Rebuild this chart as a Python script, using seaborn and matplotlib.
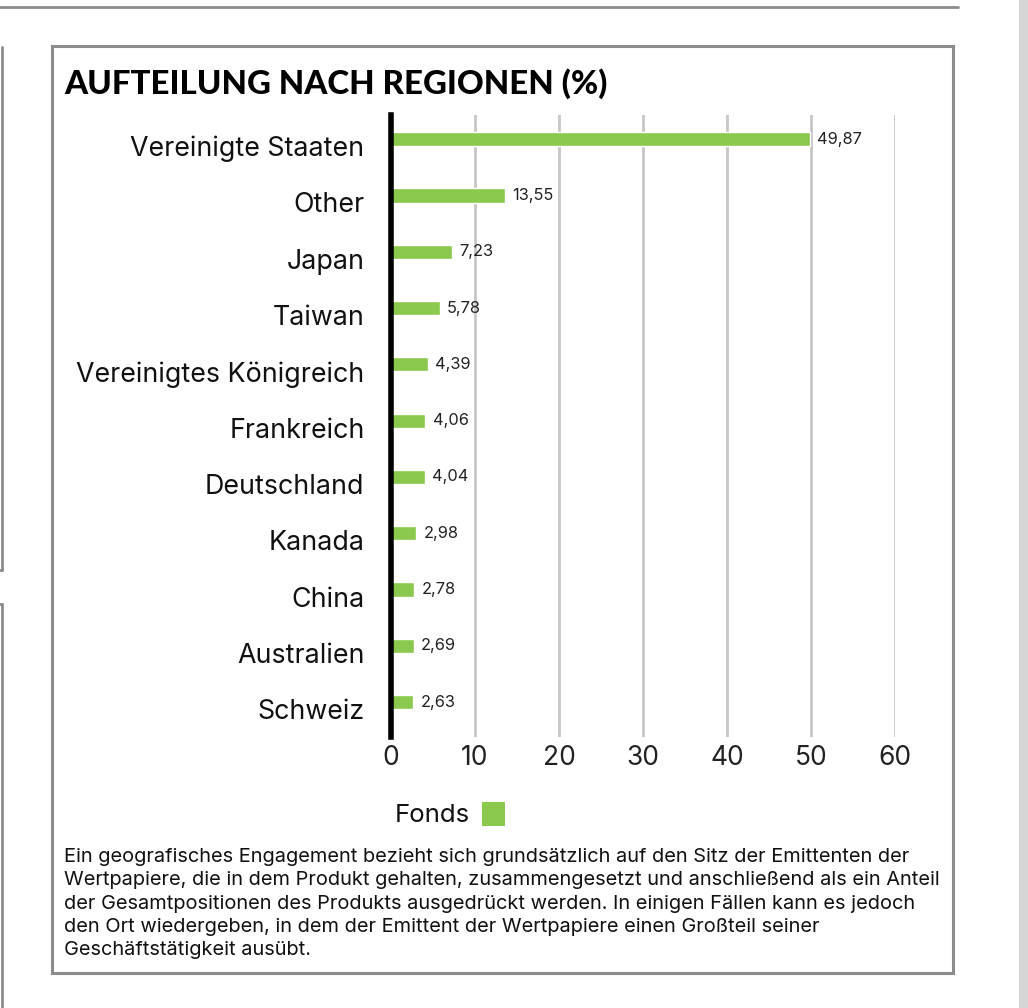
import matplotlib
matplotlib.use('Agg')
import matplotlib.pyplot as plt
import matplotlib.patches as mpatches
import matplotlib.transforms as mtrans
from matplotlib.lines import Line2D
import seaborn as sns
import pandas as pd

# daten
regionen = ['Vereinigte Staaten', 'Other', 'Japan', 'Taiwan', 'Vereinigtes Königreich',
            'Frankreich', 'Deutschland', 'Kanada', 'China', 'Australien', 'Schweiz']
fonds = [49.87, 13.55, 7.23, 5.78, 4.39, 4.06, 4.04, 2.98, 2.78, 2.69, 2.63]
x_ticks = [0, 10, 20, 30, 40, 50, 60]

titel = 'AUFTEILUNG NACH REGIONEN (%)'
fussnote = [
    'Ein geografisches Engagement bezieht sich grundsätzlich auf den Sitz der Emittenten der',
    'Wertpapiere, die in dem Produkt gehalten, zusammengesetzt und anschließend als ein Anteil',
    'der Gesamtpositionen des Produkts ausgedrückt werden. In einigen Fällen kann es jedoch',
    'den Ort wiedergeben, in dem der Emittent der Wertpapiere einen Großteil seiner',
    'Geschäftstätigkeit ausübt.',
]

df = pd.DataFrame({'Region': regionen, 'Fonds': fonds})

sns.set_style('white')
plt.rcParams['font.family'] = ['Inter', 'DejaVu Sans']

W, H = 1028, 1008
fig = plt.figure(figsize=(W / 100, H / 100), dpi=100)
GRUEN = '#8bc84e'

def fx(px):
    return px / W

def fy(py):
    return 1 - py / H

# rahmen / seitenelemente
rahmen = '#8c8c8c'
fig.add_artist(Line2D([0, fx(958)], [fy(7), fy(7)], color=rahmen, lw=2))
fig.add_artist(mpatches.Rectangle((fx(52), fy(973)), fx(953) - fx(52), fy(46) - fy(973),
                                  fill=False, edgecolor=rahmen, lw=2.2))
fig.add_artist(Line2D([fx(2), fx(2)], [fy(47), fy(570)], color=rahmen, lw=2))
fig.add_artist(Line2D([0, fx(2)], [fy(570), fy(570)], color=rahmen, lw=2))
fig.add_artist(Line2D([fx(2), fx(2)], [fy(604), 0], color=rahmen, lw=2))
fig.add_artist(Line2D([0, fx(2)], [fy(604), fy(604)], color=rahmen, lw=2))
fig.add_artist(mpatches.Rectangle((fx(1019), 0), fx(9), 1, color='#d6d6d6', lw=0))

ax = fig.add_axes([fx(391), fy(737), fx(895) - fx(391), fy(115) - fy(737)])
sns.barplot(data=df, x='Fonds', y='Region', color=GRUEN, width=0.25, saturation=1, ax=ax)

ax.set_xlim(0, 60)
ax.set_ylim(10.62, -0.43)
ax.set_xticks(x_ticks)
ax.set_xticklabels([str(t) for t in x_ticks], fontsize=19, color='#222222')
ax.tick_params(axis='x', length=0, pad=6)
ax.tick_params(axis='y', length=0, pad=19, labelsize=19.3, labelcolor='#111111')
versatz = mtrans.ScaledTranslation(0, -7 / 100, fig.dpi_scale_trans)
for lbl in ax.get_yticklabels():
    lbl.set_transform(lbl.get_transform() + versatz)
ax.set_xlabel('')
ax.set_ylabel('')
ax.grid(axis='x', color='#c6c6c6', lw=2)
ax.set_axisbelow(True)
for s in ['top', 'right', 'bottom']:
    ax.spines[s].set_visible(False)
ax.spines['left'].set_color('black')
ax.spines['left'].set_linewidth(4)
ax.spines['left'].set_zorder(5)

for i, v in enumerate(fonds):
    ax.text(v + 0.9, i, f'{v:.2f}'.replace('.', ','), va='center', ha='left',
            fontsize=11.8, color='#222222')

fig.text(fx(64), fy(84), titel, fontsize=23.8, fontweight='black', family=['Lato', 'DejaVu Sans'],
         va='center', ha='left', color='black')

# legende
fig.text(fx(470), fy(815), 'Fonds', fontsize=18.6, ha='right', va='center', color='#111111')
fig.add_artist(mpatches.Rectangle((fx(482), fy(826)), fx(23), fy(802) - fy(826),
                                  color=GRUEN, lw=0))

for k, zeile in enumerate(fussnote):
    fig.text(fx(64), fy(857 + k * 23.3), zeile, fontsize=14.4, ha='left', va='center',
             color='#111111')

fig.savefig('out.png', dpi=100)
